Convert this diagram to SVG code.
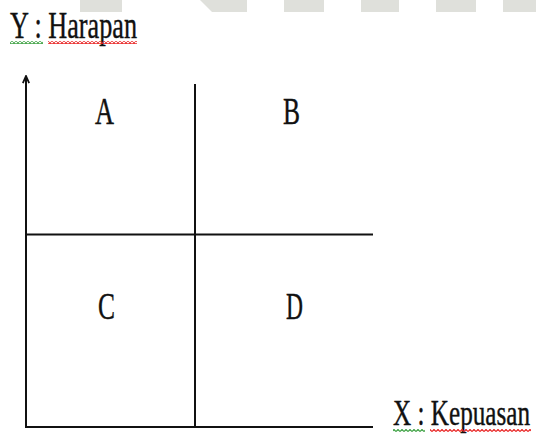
<svg xmlns="http://www.w3.org/2000/svg" width="536" height="437" viewBox="0 0 536 437">
  <defs>
    <pattern id="wg" width="4" height="3" patternUnits="userSpaceOnUse">
      <polyline points="0,2.5 2,0.5 4,2.5" fill="none" stroke="#3aa040" stroke-width="1.2"/>
    </pattern>
    <pattern id="wr" width="4" height="3" patternUnits="userSpaceOnUse">
      <polyline points="0,2.5 2,0.5 4,2.5" fill="none" stroke="#e82020" stroke-width="1.2"/>
    </pattern>
    <marker id="arr" viewBox="0 0 10 10" refX="9" refY="5" markerWidth="9" markerHeight="9" markerUnits="userSpaceOnUse" orient="auto">
      <path d="M1,1.5 L9,5 L1,8.5" fill="none" stroke="#111" stroke-width="2"/>
    </marker>
  </defs>
  <style>
    .t { font-family: "Liberation Serif", "Times New Roman", serif; font-size: 37px; fill: #111; stroke: #111; stroke-width: 0.4; }
    .ln { stroke: #111; stroke-width: 2; fill: none; }
    .wm { fill: #dfe0db; }
  </style>
  <rect width="536" height="437" fill="#fff"/>
  <g id="watermark">
    <rect class="wm" x="80" y="0" width="42" height="12"/>
    <polygon class="wm" points="200,0 247,0 247,12 212,12"/>
    <rect class="wm" x="284" y="0" width="40" height="12"/>
    <rect class="wm" x="361" y="0" width="38" height="12"/>
    <rect class="wm" x="436" y="0" width="40" height="12"/>
    <rect class="wm" x="503" y="0" width="33" height="12"/>
  </g>
  <g id="connectors">
    <line class="ln" x1="26" y1="427" x2="26" y2="76" marker-end="url(#arr)"/>
    <line class="ln" x1="195" y1="84" x2="195" y2="427"/>
    <line class="ln" x1="26" y1="234.5" x2="373" y2="234.5"/>
    <line class="ln" x1="25" y1="427" x2="373" y2="427"/>
  </g>
  <g id="y-label">
    <text class="t" x="10" y="38" textLength="127" lengthAdjust="spacingAndGlyphs">Y : Harapan</text>
    <rect x="10" y="41" width="33" height="3" fill="url(#wg)"/>
    <rect x="48" y="41" width="89" height="3" fill="url(#wr)"/>
  </g>
  <g id="x-label">
    <text class="t" transform="translate(393,425) scale(0.7,1)" x="0" y="0" style="font-size:36px">X : Kepuasan</text>
    <rect x="393" y="429" width="32" height="3" fill="url(#wg)"/>
    <rect x="430" y="429" width="101" height="3" fill="url(#wr)"/>
  </g>
  <g id="quadrant-A"><text class="t" x="95" y="124" textLength="19" lengthAdjust="spacingAndGlyphs">A</text></g>
  <g id="quadrant-B"><text class="t" x="283" y="124" textLength="17" lengthAdjust="spacingAndGlyphs">B</text></g>
  <g id="quadrant-C"><text class="t" x="98" y="319" textLength="17" lengthAdjust="spacingAndGlyphs">C</text></g>
  <g id="quadrant-D"><text class="t" x="286" y="319" textLength="17" lengthAdjust="spacingAndGlyphs">D</text></g>
</svg>
